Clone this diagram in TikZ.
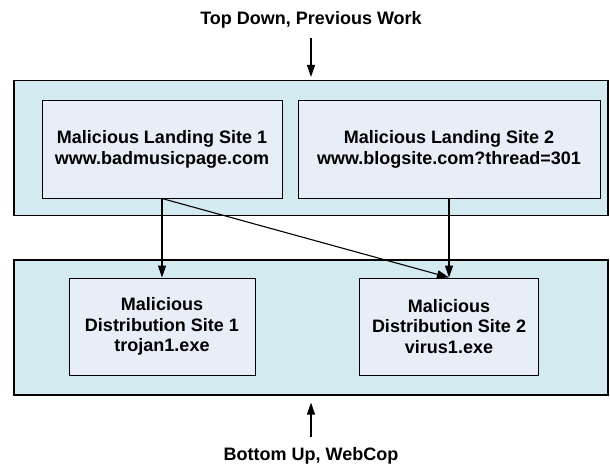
\documentclass[tikz,border=0pt]{standalone}
\usepackage{fontspec}
\setmainfont{Liberation Sans}
\usetikzlibrary{arrows.meta}
\definecolor{layerfill}{HTML}{D3EAF0}
\definecolor{sitefill}{HTML}{E7EEF8}
\tikzset{layer/.style={draw, fill = layerfill, rectangle, line width=1.1pt, minimum width=594pt, minimum height=135pt},
 site/.style={draw, fill = sitefill, rectangle, line width=1pt, minimum height=97pt, align=center, font=\fontsize{18}{20.5}\selectfont\bfseries},
 lbl/.style={font=\fontsize{18}{20.5}\selectfont\bfseries},
 arr/.style={-{Triangle[length=12pt,width=8pt]}, line width=1.1pt}}

\begin{document}
\begin{tikzpicture}[x=1pt, y=-1pt]
\useasboundingbox (0,0) rectangle (610,468);
\node[layer] (upper) at (311,148) {};
\node[layer] (lower) at (311,327.5) {};
\node[site, minimum width=240pt] (landA) at (162,149.5) {Malicious Landing Site 1\\www.badmusicpage.com};
\node[site, minimum width=302pt] (landB) at (449,149.5) {Malicious Landing Site 2\\www.blogsite.com?thread=301};
\node[site, minimum width=186pt] (distA) at (162,326.5) {Malicious\\Distribution Site 1\\trojan1.exe};
\node[site, minimum width=179pt] (distB) at (449,326.5) {Malicious\\Distribution Site 2\\virus1.exe};
\node[lbl] (topdown) at (311,20) {Top Down, Previous Work};
\node[lbl] (bottomup) at (311,456) {Bottom Up, WebCop};
\draw[arr, shorten >=3pt] (topdown.south) ++(0,6) coordinate (tdstart) -- (tdstart |- upper.north);
\draw[arr, shorten >=7pt] (bottomup.north) ++(0,-7) coordinate (bustart) -- (bustart |- lower.south);
\draw[arr] (landA.south) -- (distA.north);
\draw[arr] (landA.south) -- (distB.north);
\draw[arr] (landB.south) -- (distB.north);
\end{tikzpicture}
\end{document}
